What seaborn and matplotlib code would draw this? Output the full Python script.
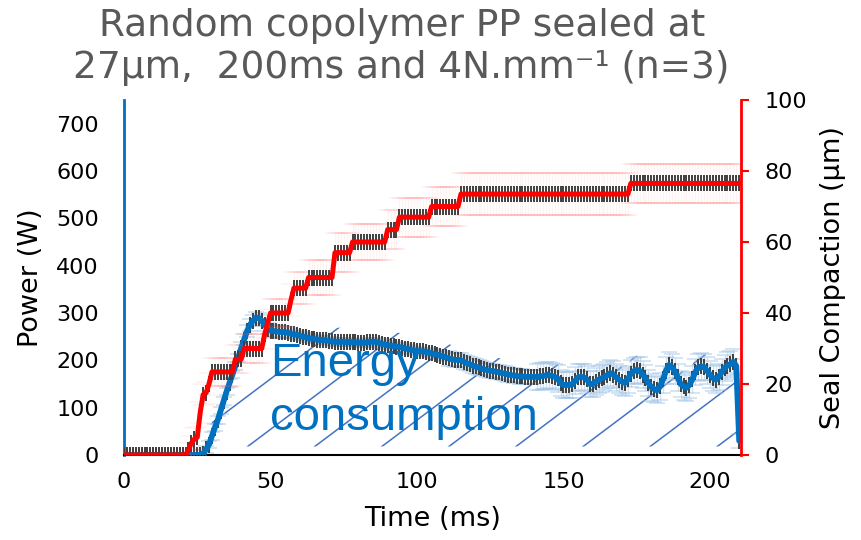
import numpy as np
import pandas as pd
import matplotlib
matplotlib.use("Agg")
import matplotlib.pyplot as plt
from matplotlib.patches import Polygon
import seaborn as sns

# ---- data (1 ms sampling, 0..210 ms) ----
time_ms = np.arange(0, 211)

power_w = [0] * 27 + [
    3, 12, 22, 40, 58, 74, 94, 114, 134, 152,
    170, 188, 205, 226, 244, 262, 275, 284, 290, 289,
    284, 275, 267, 263, 262, 261, 260, 260, 259, 258,
    256, 255, 254, 252, 250, 249, 247, 246, 245, 244,
    243, 243, 242, 241, 240, 239, 239, 239, 239, 238,
    239, 238, 238, 237, 237, 237, 238, 239, 239, 239,
    237, 235, 233, 232, 231, 230, 229, 228, 227, 225,
    224, 222, 221, 220, 219, 219, 218, 216, 215, 213,
    212, 210, 208, 206, 204, 202, 201, 201, 200, 197,
    194, 192, 189, 187, 185, 183, 181, 179, 178, 177,
    176, 175, 173, 172, 170, 169, 168, 167, 166, 166,
    165, 165, 165, 165, 165, 166, 167, 168, 169, 167,
    165, 162, 152, 148, 148, 148, 149, 157, 164, 165,
    164, 160, 150, 150, 155, 159, 162, 165, 169, 173,
    170, 164, 159, 155, 152, 160, 172, 177, 180, 178,
    170, 163, 152, 143, 139, 137, 145, 160, 178, 190,
    186, 177, 164, 150, 145, 142, 148, 160, 175, 185,
    187, 186, 178, 170, 163, 159, 165, 175, 184, 189,
    192, 197, 188, 30]
power_sd_level = [0, 8, 12, 8, 15, 28, 15]
power_sd_run = [27, 13, 16, 55, 30, 68, 2]

# seal compaction is a staircase: level / how many ms it holds / spread
comp_level = [0, 1.5, 3.4, 4.5, 5, 12, 17, 17.5, 20, 23.4, 27, 30, 34, 37,
              40, 43.7, 47, 50, 57, 60, 63.5, 67, 70, 73.5, 76.5]
comp_run = [22, 1, 1, 1, 1, 1, 1, 1, 1, 8, 3, 7, 1, 1,
            7, 1, 5, 9, 6, 12, 4, 11, 10, 58, 38]
comp_sd = [0, 2, 2, 3, 3, 3, 3, 3, 3, 4, 4, 4, 4, 4,
           4, 4.5, 4.5, 5, 5.5, 5, 5.5, 5.5, 5.5, 5.8, 5.6]

df = pd.DataFrame({
    "time": time_ms,
    "power": power_w,
    "power_sd": np.repeat(power_sd_level, power_sd_run),
    "comp": np.repeat(comp_level, comp_run),
    "comp_sd": np.repeat(comp_sd, comp_run),
})

sns.set_style("white")
plt.rcParams['font.family'] = ['DejaVu Sans']
plt.rcParams['text.color'] = 'black'
plt.rcParams['axes.labelcolor'] = 'black'

fig, ax = plt.subplots(figsize=(8.62, 5.40), dpi=100)
fig.subplots_adjust(left=0.1439, right=0.8596, bottom=0.1574, top=0.8148)
ax2 = ax.twinx()

BLUE = '#0070C0'
RED = '#FF0000'
GREY = '#404040'

# hatched "energy" area under the power curve
mask = df['power'].values > 18
tt = df['time'].values[mask]
pp = df['power'].values[mask]
verts = list(zip(tt, pp + 30)) + list(zip(tt[::-1], np.full(len(tt), 18)))
clip = Polygon(verts, closed=True, transform=ax.transData)
slope = 4.65
for t0 in np.arange(19.1, 215, 22.9):
    ln, = ax.plot([t0, t0 + 800 / slope], [17, 817], color='#4472C4', lw=1.1, zorder=1)
    ln.set_clip_path(clip)

# power (left axis)
ax.errorbar(df['time'], df['power'], yerr=df['power_sd'], fmt='none',
            ecolor=(0.62, 0.76, 0.90, 0.5), elinewidth=1, capsize=6, capthick=1.2, zorder=2)
ax.plot(df['time'], df['power'], ls='none', marker='|', ms=11, mew=1.4, color=GREY, zorder=3)
sns.lineplot(data=df, x='time', y='power', ax=ax, color=BLUE, lw=4.2, zorder=4)

# seal compaction (right axis)
ax2.errorbar(df['time'], df['comp'], yerr=df['comp_sd'], fmt='none',
             ecolor=(1, 0.3, 0.3, 0.07), elinewidth=1, capsize=7, capthick=1.2, zorder=2)
ax2.plot(df['time'], df['comp'], ls='none', marker='|', ms=11, mew=1.4, color=GREY, zorder=3)
sns.lineplot(data=df, x='time', y='comp', ax=ax2, color=RED, lw=3.6, zorder=4)

ax.set_xlim(0, 210.6)
ax.set_ylim(0, 750)
ax.set_yticks(np.arange(0, 701, 100))
ax.set_xticks([0, 50, 100, 150, 200])
ax2.set_ylim(0, 100)
ax2.set_yticks(np.arange(0, 101, 20))

ax.set_xlabel('Time (ms)', fontsize=19.5, labelpad=10)
ax.set_ylabel('Power (W)', fontsize=19.5, labelpad=9)
ax2.set_ylabel('Seal Compaction (µm)', fontsize=19.5, labelpad=9)

ax.tick_params(axis='x', length=0, pad=12, labelsize=16, labelcolor='black')
ax.tick_params(axis='y', length=0, pad=18, labelsize=16, labelcolor='black')
ax2.tick_params(axis='y', direction='out', length=6, width=1.5, color=RED,
                pad=11, labelsize=16, labelcolor='black', right=True)

for s in ['top', 'right']:
    ax.spines[s].set_visible(False)
for s in ['top', 'left', 'bottom']:
    ax2.spines[s].set_visible(False)
ax.spines['left'].set_color(BLUE)
ax.spines['left'].set_linewidth(2)
ax.spines['bottom'].set_color('black')
ax.spines['bottom'].set_linewidth(1.5)
ax2.spines['right'].set_color(RED)
ax2.spines['right'].set_linewidth(2)
ax.grid(False)
ax2.grid(False)

ax2.text(0.237, 0.2225, 'Energy', transform=ax2.transAxes, fontsize=34,
         color=BLUE, family='Liberation Sans', va='baseline', ha='left', zorder=10)
ax2.text(0.237, 0.07, 'consumption', transform=ax2.transAxes, fontsize=34,
         color=BLUE, family='Liberation Sans', va='baseline', ha='left', zorder=10)

fig.text(0.466, 0.985, 'Random copolymer PP sealed at\n27µm,  200ms and 4N.mm\u207b\u00b9 (n=3)',
         ha='center', va='top', fontsize=27, color='#595959')

plt.savefig('out.png', dpi=100)
plt.close()
